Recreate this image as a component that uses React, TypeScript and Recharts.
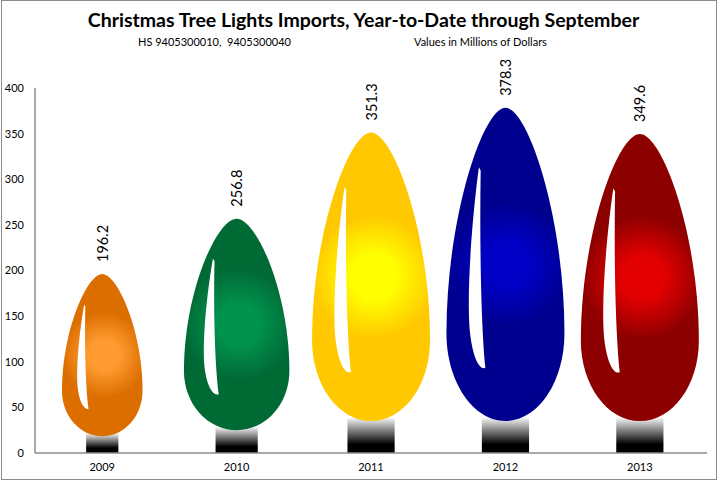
import React from 'react';
import { BarChart, Bar, XAxis, YAxis, LabelList } from 'recharts';

const years = ['2009', '2010', '2011', '2012', '2013'];
const imports = [196.2, 256.8, 351.3, 378.3, 349.6];
const yTicks = [0, 50, 100, 150, 200, 250, 300, 350, 400];

const titleText = 'Christmas Tree Lights Imports, Year-to-Date through September';
const subtitleLeft = 'HS 9405300010,  9405300040';
const subtitleRight = 'Values in Millions of Dollars';

const palette = [
  { edge: '#DC6E00', glow: '#FF9B30' },
  { edge: '#006A35', glow: '#00934F' },
  { edge: '#FFC800', glow: '#FFFF00' },
  { edge: '#00008E', glow: '#0000C6' },
  { edge: '#8C0000', glow: '#E20000' },
];

const data = years.map((year, i) => ({ year, value: imports[i] }));

const FONT = 'Lato, "Open Sans", sans-serif';

function Bulb(props: any) {
  const { x, y, width, height, index } = props;
  if (!height || height <= 0) return null;
  const cx = x + width / 2;
  const h = height;
  const W = Math.min(0.45 * h, 118);
  const S = Math.min(0.11 * h, 35);
  const top = y;
  const gh = h - S + 3;
  const hw = W / 2;
  const P = (u: number, v: number) => `${(cx + u * hw).toFixed(2)},${(top + v * gh).toFixed(2)}`;
  const glass = `M${P(0, 0)} C${P(0.38, 0)} ${P(1, 0.35)} ${P(1, 0.72)} C${P(1, 0.875)} ${P(0.552, 1)} ${P(0, 1)} C${P(-0.552, 1)} ${P(-1, 0.875)} ${P(-1, 0.72)} C${P(-1, 0.35)} ${P(-0.38, 0)} ${P(0, 0)} Z`;
  const streak = `M${P(-0.45, 0.19)} C${P(-0.53, 0.3)} ${P(-0.66, 0.55)} ${P(-0.61, 0.7)} C${P(-0.57, 0.79)} ${P(-0.45, 0.84)} ${P(-0.34, 0.83)} C${P(-0.41, 0.7)} ${P(-0.44, 0.45)} ${P(-0.42, 0.2)} Z`;
  const sw = 0.4 * W;
  const c = palette[index % palette.length];
  const gid = `glow${index}`;
  const sid = `sock${index}`;
  return (
    <g>
      <defs>
        <radialGradient id={gid} gradientUnits="userSpaceOnUse" cx={cx + 0.05 * hw} cy={top + 0.5 * gh} r={0.62 * W}>
          <stop offset="0" stopColor={c.glow} />
          <stop offset="0.3" stopColor={c.glow} />
          <stop offset="0.85" stopColor={c.edge} />
          <stop offset="1" stopColor={c.edge} />
        </radialGradient>
        <linearGradient id={sid} x1="0" y1="0" x2="0" y2="1">
          <stop offset="0" stopColor="#f4f4f4" />
          <stop offset="0.75" stopColor="#000" />
          <stop offset="1" stopColor="#000" />
        </linearGradient>
      </defs>
      <rect x={cx - sw / 2} y={top + h - S} width={sw} height={S} fill={`url(#${sid})`} />
      <path d={glass} fill={`url(#${gid})`} />
      <path d={streak} fill="#ffffff" />
    </g>
  );
}

function ValueLabel(props: any) {
  const { x, y, width, value } = props;
  const lx = x + width / 2;
  const ly = y - 12;
  return (
    <text
      x={lx}
      y={ly}
      transform={`rotate(-90 ${lx} ${ly})`}
      textAnchor="start"
      dominantBaseline="central"
      fontFamily={FONT}
      fontSize={14.5}
      fill="#000"
    >
      {Number(value).toFixed(1)}
    </text>
  );
}

export default function App() {
  return (
    <div style={{ position: 'absolute', left: 0, top: 0, width: 720, height: 483, background: '#fff', overflow: 'hidden' }}>
      <BarChart
        width={720}
        height={483}
        data={data}
        margin={{ top: 88, right: 13, bottom: 0, left: 0 }}
        barCategoryGap="8%"
      >
        <XAxis
          dataKey="year"
          height={30}
          axisLine={{ stroke: '#8c8c8c', strokeWidth: 1.5 }}
          tickLine={false}
          tickSize={6}
          tickMargin={4}
          tick={{ fontSize: 11, fill: '#000', fontFamily: FONT }}
        />
        <YAxis
          width={35}
          domain={[0, 400]}
          ticks={yTicks}
          interval={0}
          axisLine={{ stroke: '#8c8c8c', strokeWidth: 1.5 }}
          tickLine={false}
          tickSize={6}
          tickMargin={5}
          tick={{ fontSize: 11, fill: '#000', fontFamily: FONT }}
        />
        <Bar dataKey="value" shape={<Bulb />} isAnimationActive={false}>
          <LabelList dataKey="value" content={<ValueLabel />} />
        </Bar>
      </BarChart>
      <div
        style={{
          position: 'absolute',
          left: 1,
          top: 0,
          width: 716,
          height: 480,
          border: '1.5px solid #8c8c8c',
          boxSizing: 'border-box',
          pointerEvents: 'none',
        }}
      />
      <div
        style={{
          position: 'absolute',
          left: 0,
          width: 727,
          top: 8,
          textAlign: 'center',
          fontFamily: FONT,
          fontWeight: 700,
          fontSize: 19.5,
          lineHeight: '24px',
          color: '#000',
          whiteSpace: 'nowrap',
        }}
      >
        {titleText}
      </div>
      <div
        style={{
          position: 'absolute',
          left: 138,
          top: 35,
          fontFamily: FONT,
          fontSize: 11,
          lineHeight: '14px',
          color: '#000',
          whiteSpace: 'pre',
        }}
      >
        {subtitleLeft}
      </div>
      <div
        style={{
          position: 'absolute',
          left: 414,
          top: 35,
          fontFamily: FONT,
          fontSize: 11,
          lineHeight: '14px',
          color: '#000',
          whiteSpace: 'pre',
        }}
      >
        {subtitleRight}
      </div>
    </div>
  );
}
